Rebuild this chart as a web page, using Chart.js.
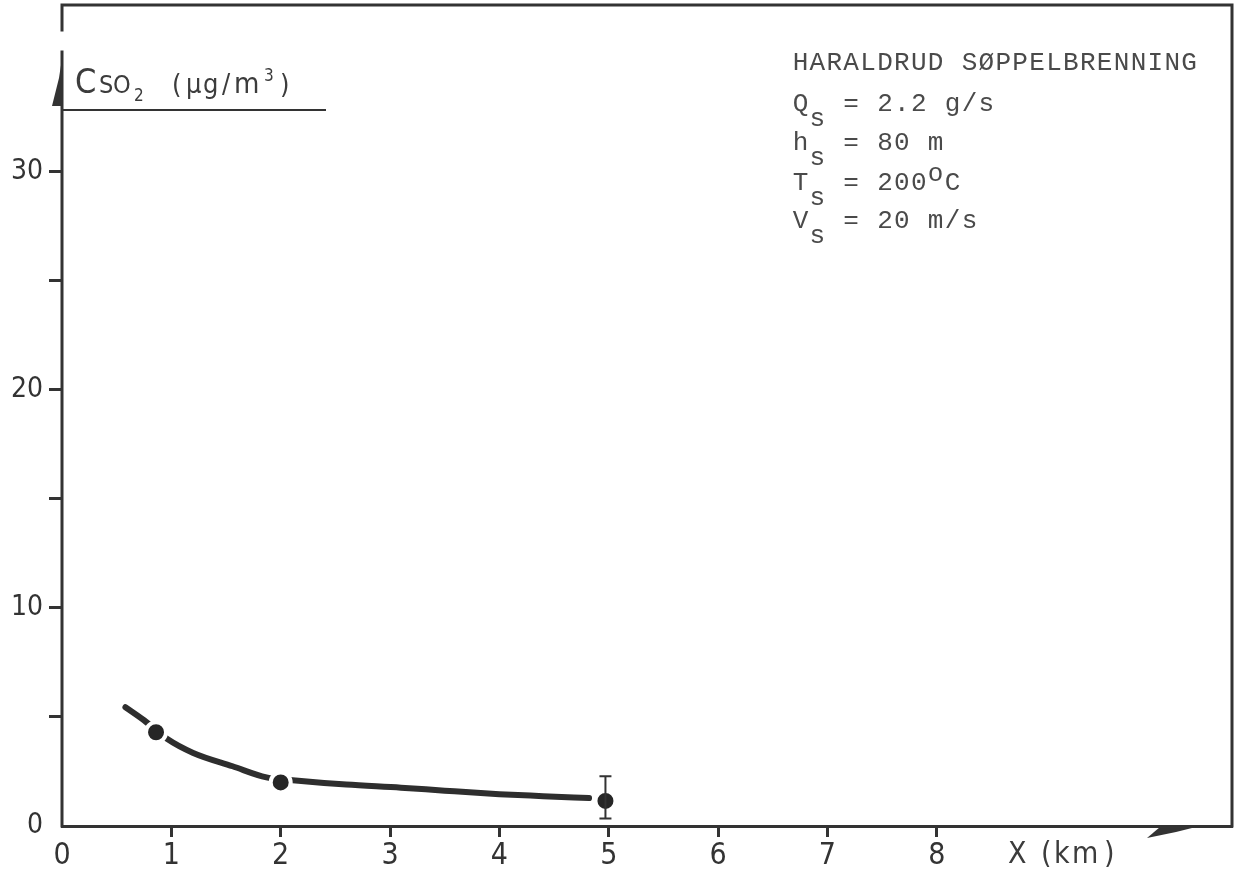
<!DOCTYPE html>
<html>
<head>
<meta charset="utf-8">
<script src="https://cdn.jsdelivr.net/npm/chart.js@4.4.0/dist/chart.umd.min.js"></script>
<style>
  html, body { margin: 0; padding: 0; background: #fff; }
  #wrap { width: 1235px; height: 872px; }
</style>
</head>
<body>
<div id="wrap"><canvas id="plume"></canvas></div>
<script>
// fitted concentration curve (km, ug/m3)
const curveX = [0.58, 0.75, 0.96, 1.2, 1.56, 1.87, 2.11, 2.6, 3.1, 3.5, 4.0, 4.4, 4.82];
const curveY = [5.45, 4.85, 4.0, 3.35, 2.74, 2.23, 2.1, 1.9, 1.76, 1.62, 1.46, 1.37, 1.28];

// measured values
const measX = [0.86, 2.0, 4.97];
const measY = [4.3, 2.0, 1.15];
const errLow = [null, null, 0.34];
const errHigh = [null, null, 2.28];

const xLabels = [0, 1, 2, 3, 4, 5, 6, 7, 8];
const yLabels = [0, 10, 20, 30];

const infoLines = [
  'HARALDRUD SØPPELBRENNING',
  'Q_s = 2.2 g/s',
  'h_s = 80 m',
  'T_s = 200^oC',
  'V_s = 20 m/s'
];

const ink = '#333333';
const tickFont = "'DejaVu Sans Condensed', 'Liberation Sans Narrow', 'DejaVu Sans', sans-serif";

// typewriter block: one fixed column per character, _x lowers, ^x raises
function typeLine(ctx, str, x0, y, step) {
  let col = 0;
  for (let i = 0; i < str.length; i++) {
    let ch = str[i], dy = 0;
    if (ch === '_') { ch = str[++i]; dy = 15; }
    else if (ch === '^') { ch = str[++i]; dy = -9; }
    ctx.fillText(ch, x0 + col * step + step / 2, y + dy);
    col++;
  }
}

// draws glyph runs at given x positions: [text, x, y, size]
function placeText(ctx, runs) {
  runs.forEach(r => {
    ctx.font = r[3] + 'px ' + tickFont;
    ctx.fillText(r[0], r[1], r[2]);
  });
}

const framePlugin = {
  id: 'frame',
  afterDraw(chart) {
    const { ctx, chartArea: a } = chart;
    ctx.save();
    ctx.strokeStyle = ink;
    ctx.fillStyle = ink;
    ctx.lineWidth = 3;
    ctx.lineCap = 'square';

    // box: top, right, and the broken left axis
    ctx.beginPath();
    ctx.moveTo(a.left, 30);
    ctx.lineTo(a.left, a.top);
    ctx.lineTo(a.right, a.top);
    ctx.lineTo(a.right, a.bottom);
    ctx.moveTo(a.left, 52);
    ctx.lineTo(a.left, a.bottom);
    ctx.stroke();

    // arrow head on the y axis
    ctx.beginPath();
    ctx.moveTo(a.left + 1, 52);
    ctx.lineTo(a.left + 1, 106);
    ctx.lineTo(a.left - 10, 106);
    ctx.lineTo(a.left - 3, 78);
    ctx.closePath();
    ctx.fill();

    // arrow head on the x axis
    ctx.beginPath();
    ctx.moveTo(1147, 838);
    ctx.lineTo(1160, 827);
    ctx.lineTo(1200, 826);
    ctx.lineTo(1176, 832);
    ctx.closePath();
    ctx.fill();

    // underline of the unit label
    ctx.lineWidth = 2;
    ctx.beginPath();
    ctx.moveTo(a.left, 110);
    ctx.lineTo(325, 110);
    ctx.stroke();

    // y axis title
    ctx.fillStyle = '#3c3c3c';
    ctx.textBaseline = 'alphabetic';
    ctx.textAlign = 'left';
    placeText(ctx, [
      ['C', 75, 93, 34],
      ['S', 99, 93, 25],
      ['O', 113, 93, 25],
      ['2', 134, 101, 17],
      ['(', 172, 93, 27],
      ['μ', 186, 93, 27],
      ['g', 203, 93, 27],
      ['/', 222, 93, 27],
      ['m', 234, 93, 29],
      ['3', 264, 81, 17],
      [')', 280, 93, 27]
    ]);

    // x axis title
    placeText(ctx, [
      ['X', 1008, 863, 30],
      ['(', 1041, 863, 30],
      ['k', 1054, 863, 30],
      ['m', 1072, 863, 30],
      [')', 1104, 863, 30]
    ]);

    // stack parameters
    ctx.fillStyle = '#4a4a4a';
    ctx.textAlign = 'center';
    ctx.font = '26px "Liberation Mono", "DejaVu Sans Mono", monospace';
    const base = [70, 111, 150, 190, 228];
    infoLines.forEach((s, i) => typeLine(ctx, s, 792, base[i], 16.9));
    ctx.restore();
  }
};

const errorBarPlugin = {
  id: 'errorBars',
  afterDatasetsDraw(chart) {
    const { ctx, scales } = chart;
    ctx.save();
    ctx.strokeStyle = ink;
    ctx.lineWidth = 2;
    measX.forEach((xv, i) => {
      if (errLow[i] === null) return;
      const x = scales.x.getPixelForValue(xv);
      const y1 = scales.y.getPixelForValue(errLow[i]);
      const y2 = scales.y.getPixelForValue(errHigh[i]);
      ctx.beginPath();
      ctx.moveTo(x, y1); ctx.lineTo(x, y2);
      ctx.moveTo(x - 6, y1); ctx.lineTo(x + 6, y1);
      ctx.moveTo(x - 6, y2); ctx.lineTo(x + 6, y2);
      ctx.stroke();
    });
    ctx.restore();
  }
};

new Chart(document.getElementById('plume'), {
  type: 'scatter',
  data: {
    datasets: [{
      data: measX.map((x, i) => ({ x: x, y: measY[i] })),
      pointRadius: 10,
      pointBackgroundColor: '#262626',
      pointBorderColor: '#ffffff',
      pointBorderWidth: 4,
      showLine: false,
      order: 0
    }, {
      data: curveX.map((x, i) => ({ x: x, y: curveY[i] })),
      showLine: true,
      borderColor: '#2e2e2e',
      borderWidth: 6,
      borderCapStyle: 'round',
      cubicInterpolationMode: 'monotone',
      pointRadius: 0,
      order: 1
    }]
  },
  options: {
    responsive: true,
    maintainAspectRatio: false,
    animation: false,
    layout: { autoPadding: false, padding: { top: 5, right: 3, left: 0, bottom: 0 } },
    plugins: { legend: { display: false }, tooltip: { enabled: false } },
    scales: {
      x: {
        type: 'linear',
        min: 0,
        max: 10.7,
        afterFit(s) { s.height = 46; s.paddingLeft = 0; s.paddingRight = 0; },
        border: { display: true, color: ink, width: 3 },
        grid: {
          drawOnChartArea: false,
          tickLength: 11,
          tickWidth: 3,
          tickColor: c => (c.tick && c.tick.value > 0 && xLabels.includes(c.tick.value)) ? ink : 'rgba(0,0,0,0)'
        },
        ticks: {
          stepSize: 1,
          autoSkip: false,
          maxRotation: 0,
          padding: 1,
          color: ink,
          font: { family: tickFont, size: 30 },
          callback: v => xLabels.includes(v) ? String(v) : ''
        }
      },
      y: {
        min: 0,
        max: 37.66,
        afterFit(s) { s.width = 62; s.paddingTop = 0; s.paddingBottom = 0; },
        border: { display: false },
        grid: {
          drawOnChartArea: false,
          tickLength: 13,
          tickWidth: 3,
          tickColor: c => (c.tick && c.tick.value > 0 && c.tick.value <= 30) ? ink : 'rgba(0,0,0,0)'
        },
        ticks: {
          stepSize: 5,
          autoSkip: false,
          padding: 6,
          color: ink,
          font: { family: tickFont, size: 28 },
          callback: v => yLabels.includes(v) ? String(v) : ''
        }
      }
    }
  },
  plugins: [framePlugin, errorBarPlugin]
});
</script>
</body>
</html>
